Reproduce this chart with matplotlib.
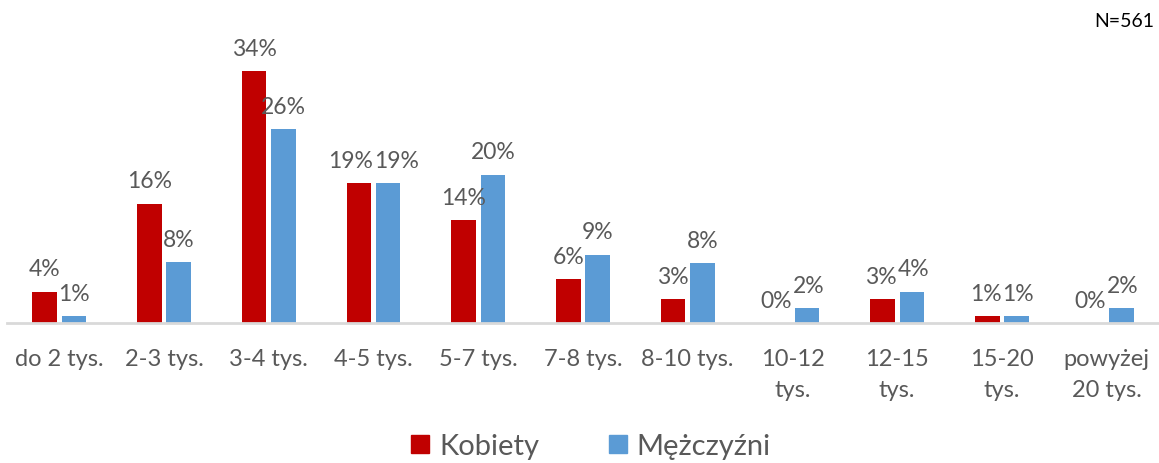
import numpy as np
import matplotlib
matplotlib.use('Agg')
import matplotlib.pyplot as plt
from matplotlib.patches import Patch

# data
categories = ['do 2 tys.', '2-3 tys.', '3-4 tys.', '4-5 tys.', '5-7 tys.', '7-8 tys.',
              '8-10 tys.', '10-12\ntys.', '12-15\ntys.', '15-20\ntys.', 'powyżej\n20 tys.']
kobiety = [4.2, 16.1, 34.0, 18.9, 13.9, 5.9, 3.2, 0.0, 3.2, 0.9, 0.0]
mezczyzni = [0.9, 8.2, 26.2, 18.9, 20.0, 9.2, 8.1, 2.0, 4.2, 0.9, 2.0]
series_names = ['Kobiety', 'Mężczyźni']
note = 'N=561'

RED = '#C00000'
BLUE = '#5B9BD5'
GREY = '#595959'

plt.rcParams['font.family'] = ['Lato', 'DejaVu Sans']

fig = plt.figure(figsize=(11.59, 4.64), dpi=100)
ax = fig.add_axes([0.006, 0.3017, 0.994, 0.638])

x = np.arange(len(categories))
w = 0.235
gap = 0.045
b1 = ax.bar(x - (w + gap) / 2, kobiety, w, color=RED)
b2 = ax.bar(x + (w + gap) / 2, mezczyzni, w, color=BLUE)

labels = []
for bars, vals in ((b1, kobiety), (b2, mezczyzni)):
    row = []
    for rect, v in zip(bars, vals):
        t = ax.annotate(f'{round(v):.0f}%', (rect.get_x() + rect.get_width() / 2, v),
                        xytext=(0, 9), textcoords='offset points',
                        ha='center', va='bottom', fontsize=16.5, color=GREY)
        row.append(t)
    labels.append(row)

ax.set_xlim(-0.5, len(categories) - 0.5)
ax.set_ylim(0, 40)
ax.set_yticks([])
ax.set_xticks(x)
ax.set_xticklabels(categories, fontsize=17, color=GREY, linespacing=1.6)
ax.tick_params(axis='x', length=0, pad=18)
for s in ('top', 'right', 'left'):
    ax.spines[s].set_visible(False)
ax.spines['bottom'].set_color('#D9D9D9')
ax.spines['bottom'].set_linewidth(2)

# push apart labels of a pair that would collide (like Excel does)
fig.canvas.draw()
r = fig.canvas.get_renderer()
for tl, tr in zip(labels[0], labels[1]):
    bl = tl.get_window_extent(r)
    br = tr.get_window_extent(r)
    overlap = bl.x1 - br.x0
    if overlap > 0 and bl.y1 > br.y0 and br.y1 > bl.y0:
        shift = (overlap + 1) / 2 * 72 / fig.dpi
        tl.set_position((-shift, 9))
        tr.set_position((shift, 9))

fig.text(0.996, 0.953, note, ha='right', va='center', fontsize=14, color='black')

handles = [Patch(color=RED), Patch(color=BLUE)]
fig.legend(handles, series_names, loc='center', bbox_to_anchor=(0.51, 0.036),
           ncol=2, frameon=False, fontsize=21, labelcolor=GREY,
           handlelength=0.6, handleheight=0.6, handletextpad=0.35, columnspacing=2.4)

fig.savefig('out.png', dpi=100, facecolor='white')
